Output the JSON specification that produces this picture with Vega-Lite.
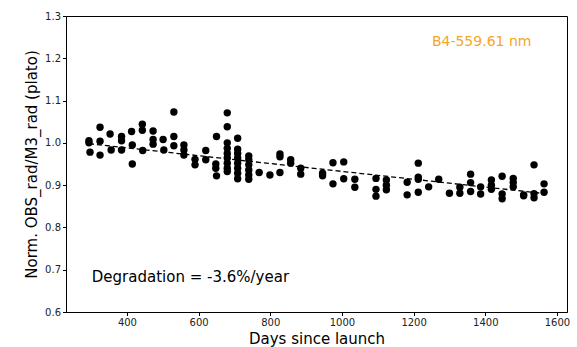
{
  "$schema": "https://vega.github.io/schema/vega-lite/v6.json",
  "width": 501,
  "height": 296,
  "autosize": {"type": "none"},
  "padding": {"left": 66, "top": 16, "right": 10, "bottom": 35},
  "background": "white",
  "config": {
    "view": {"stroke": "black", "strokeWidth": 1},
    "axis": {
      "grid": false,
      "domainColor": "black",
      "tickColor": "black",
      "labelColor": "#222222",
      "labelFont": "DejaVu Sans",
      "titleFont": "DejaVu Sans",
      "labelFontSize": 10,
      "titleFontSize": 15,
      "titleFontWeight": "normal",
      "titleColor": "black",
      "tickSize": 3.5
    }
  },
  "datasets": {
    "pts": [
      {"day": 294, "value": 1.005}, {"day": 294, "value": 1.0}, {"day": 297, "value": 0.978},
      {"day": 325, "value": 1.037}, {"day": 325, "value": 1.004}, {"day": 325, "value": 0.971},
      {"day": 353, "value": 1.021}, {"day": 356, "value": 0.983},
      {"day": 385, "value": 1.015}, {"day": 385, "value": 1.005}, {"day": 385, "value": 0.983},
      {"day": 413, "value": 1.027}, {"day": 415, "value": 0.995}, {"day": 415, "value": 0.95},
      {"day": 443, "value": 1.044}, {"day": 443, "value": 1.03}, {"day": 444, "value": 0.982},
      {"day": 473, "value": 1.028}, {"day": 473, "value": 1.008}, {"day": 473, "value": 0.997},
      {"day": 501, "value": 1.008}, {"day": 503, "value": 0.983},
      {"day": 531, "value": 1.073}, {"day": 531, "value": 1.015}, {"day": 531, "value": 0.993},
      {"day": 559, "value": 0.995}, {"day": 559, "value": 0.983}, {"day": 559, "value": 0.971},
      {"day": 590, "value": 0.961}, {"day": 590, "value": 0.948},
      {"day": 620, "value": 0.982}, {"day": 620, "value": 0.96},
      {"day": 650, "value": 1.015}, {"day": 648, "value": 0.95}, {"day": 648, "value": 0.94}, {"day": 650, "value": 0.922},
      {"day": 680, "value": 1.071}, {"day": 680, "value": 1.038}, {"day": 680, "value": 1.0}, {"day": 680, "value": 0.987},
      {"day": 680, "value": 0.975}, {"day": 680, "value": 0.964}, {"day": 680, "value": 0.952}, {"day": 680, "value": 0.94}, {"day": 680, "value": 0.932},
      {"day": 709, "value": 1.011}, {"day": 709, "value": 0.985}, {"day": 709, "value": 0.975}, {"day": 709, "value": 0.964},
      {"day": 709, "value": 0.952}, {"day": 709, "value": 0.94}, {"day": 709, "value": 0.928}, {"day": 709, "value": 0.915},
      {"day": 740, "value": 0.969}, {"day": 740, "value": 0.96}, {"day": 740, "value": 0.948}, {"day": 740, "value": 0.936},
      {"day": 740, "value": 0.924}, {"day": 740, "value": 0.914},
      {"day": 769, "value": 0.93},
      {"day": 799, "value": 0.924},
      {"day": 827, "value": 0.974}, {"day": 827, "value": 0.967}, {"day": 827, "value": 0.93},
      {"day": 857, "value": 0.96}, {"day": 857, "value": 0.952},
      {"day": 885, "value": 0.94}, {"day": 885, "value": 0.926},
      {"day": 946, "value": 0.928}, {"day": 946, "value": 0.922},
      {"day": 975, "value": 0.953}, {"day": 975, "value": 0.903},
      {"day": 1005, "value": 0.955}, {"day": 1005, "value": 0.915},
      {"day": 1036, "value": 0.914}, {"day": 1036, "value": 0.895},
      {"day": 1095, "value": 0.916}, {"day": 1095, "value": 0.89}, {"day": 1095, "value": 0.874},
      {"day": 1124, "value": 0.912}, {"day": 1124, "value": 0.9}, {"day": 1124, "value": 0.889},
      {"day": 1182, "value": 0.907}, {"day": 1182, "value": 0.877},
      {"day": 1213, "value": 0.952}, {"day": 1213, "value": 0.919}, {"day": 1213, "value": 0.914}, {"day": 1213, "value": 0.883},
      {"day": 1242, "value": 0.896},
      {"day": 1270, "value": 0.914},
      {"day": 1300, "value": 0.881},
      {"day": 1329, "value": 0.895}, {"day": 1329, "value": 0.881},
      {"day": 1359, "value": 0.926}, {"day": 1359, "value": 0.906}, {"day": 1359, "value": 0.885},
      {"day": 1387, "value": 0.896}, {"day": 1387, "value": 0.879},
      {"day": 1417, "value": 0.912}, {"day": 1417, "value": 0.9}, {"day": 1417, "value": 0.89},
      {"day": 1447, "value": 0.921}, {"day": 1447, "value": 0.879}, {"day": 1447, "value": 0.868},
      {"day": 1478, "value": 0.916}, {"day": 1478, "value": 0.906}, {"day": 1478, "value": 0.896},
      {"day": 1507, "value": 0.877}, {"day": 1507, "value": 0.875},
      {"day": 1536, "value": 0.948}, {"day": 1536, "value": 0.88}, {"day": 1536, "value": 0.87},
      {"day": 1564, "value": 0.903}, {"day": 1564, "value": 0.883}
    ],
    "trend": [{"day": 294, "value": 0.998}, {"day": 1566, "value": 0.88}],
    "deg": [{"day": 302, "value": 0.683, "label": "Degradation = -3.6%/year"}],
    "band": [{"day": 1251, "value": 1.239, "label": "B4-559.61 nm"}]
  },
  "encoding": {
    "x": {
      "field": "day", "type": "quantitative",
      "scale": {"domain": [230, 1628], "nice": false, "zero": false},
      "axis": {"title": "Days since launch", "values": [400, 600, 800, 1000, 1200, 1400, 1600], "format": "d", "titlePadding": 4}
    },
    "y": {
      "field": "value", "type": "quantitative",
      "scale": {"domain": [0.6, 1.3], "nice": false, "zero": false},
      "axis": {"title": "Norm. OBS_rad/M3_rad (plato)", "values": [0.6, 0.7, 0.8, 0.9, 1.0, 1.1, 1.2, 1.3], "format": ".1f", "titlePadding": 5}
    }
  },
  "layer": [
    {
      "data": {"name": "pts"},
      "mark": {"type": "point", "filled": true, "shape": "circle", "size": 55, "color": "black", "opacity": 1}
    },
    {
      "data": {"name": "trend"},
      "mark": {"type": "line", "color": "black", "strokeWidth": 1.3, "strokeDash": [5, 3]}
    },
    {
      "data": {"name": "deg"},
      "mark": {"type": "text", "align": "left", "baseline": "middle", "font": "DejaVu Sans", "fontSize": 15, "color": "black"},
      "encoding": {"text": {"field": "label"}}
    },
    {
      "data": {"name": "band"},
      "mark": {"type": "text", "align": "left", "baseline": "middle", "font": "DejaVu Sans", "fontSize": 14, "color": "#f5a623"},
      "encoding": {"text": {"field": "label"}}
    }
  ]
}
